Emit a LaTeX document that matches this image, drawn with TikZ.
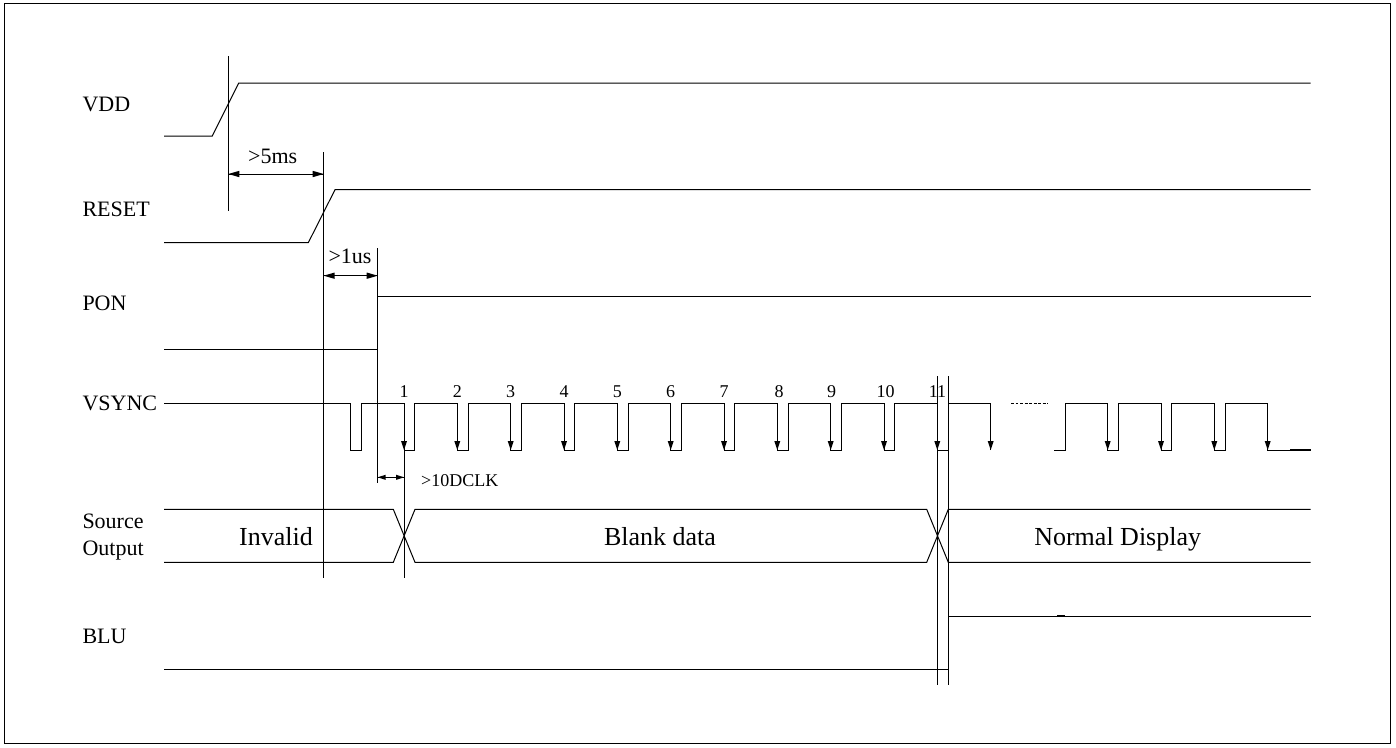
\documentclass[tikz,border=0pt]{standalone}
\usepackage{fontspec}
\setmainfont{Liberation Serif}

\tikzset{every picture/.style={line width=0.75pt}}
\tikzset{
  signame/.style={anchor=west, inner sep=0pt, align=left, font=\fontsize{16.5}{20}\selectfont},
  gaplbl/.style={inner sep=0pt, font=\fontsize{16.5}{20}\selectfont},
  pulsenum/.style={anchor=base, inner sep=0pt, font=\fontsize{13.5}{16}\selectfont},
  datalbl/.style={anchor=base, inner sep=0pt, font=\fontsize{19.5}{23}\selectfont},
}

\begin{document}
\begin{tikzpicture}[x=0.75pt,y=0.75pt,yscale=-1,xscale=1]
	\useasboundingbox (0,0) rectangle (1396,747);

	%Frame
	\draw [line width=1pt] (4.5,3.5) rectangle (1390.5,743.5);

	%VDD
	\draw    (164,136) -- (212.3,136) -- (238.7,83) -- (1310.7,83) ;
	%RESET
	\draw    (164,242.7) -- (308.3,242.7) -- (335,189.7) -- (1310.7,189.7) ;
	%PON
	\draw    (164,349.3) -- (377.7,349.3) -- (377.7,296) -- (1310.7,296) ;

	%VSYNC up to pulse 11
	\draw    (164,403) -- (350.7,403) -- (350.7,450) -- (361.7,450) -- (361.7,403)
	  -- (404,403) -- (404,450) -- (414.7,450) -- (414.7,403)
	  -- (457.3,403) -- (457.3,450) -- (468,450) -- (468,403)
	  -- (510.7,403) -- (510.7,450) -- (521.4,450) -- (521.4,403)
	  -- (564,403) -- (564,450) -- (574.7,450) -- (574.7,403)
	  -- (617.3,403) -- (617.3,450) -- (628,450) -- (628,403)
	  -- (670.7,403) -- (670.7,450) -- (681.4,450) -- (681.4,403)
	  -- (724,403) -- (724,450) -- (734.7,450) -- (734.7,403)
	  -- (777.3,403) -- (777.3,450) -- (788,450) -- (788,403)
	  -- (830.7,403) -- (830.7,450) -- (841.4,450) -- (841.4,403)
	  -- (884,403) -- (884,450) -- (894.7,450) -- (894.7,403)
	  -- (937.3,403) -- (937.3,450) -- (948,450) -- (948,403)
	  -- (990.7,403) -- (990.7,450) ;
	%VSYNC dots
	\draw [dash pattern=on 2.2pt off 1.2pt]  (1011,403) -- (1047.7,403) ;
	%VSYNC last pulses
	\draw    (1054.3,450) -- (1065.7,450) -- (1065.7,403)
	  -- (1107.7,403) -- (1107.7,450) -- (1118.3,450) -- (1118.3,403)
	  -- (1161,403) -- (1161,450) -- (1171.7,450) -- (1171.7,403)
	  -- (1214.3,403) -- (1214.3,450) -- (1225,450) -- (1225,403)
	  -- (1267.7,403) -- (1267.7,450) -- (1311,450) ;
	\draw [line width=1.5pt]  (1290,450) -- (1311,450) ;

	%VSYNC arrow heads
	\draw [shift={(404,450)}, rotate = 270] [fill=black][line width=0.08] [draw opacity=0] (9,-3) -- (0,0) -- (9,3) -- cycle ;
	\draw [shift={(457.3,450)}, rotate = 270] [fill=black][line width=0.08] [draw opacity=0] (9,-3) -- (0,0) -- (9,3) -- cycle ;
	\draw [shift={(510.7,450)}, rotate = 270] [fill=black][line width=0.08] [draw opacity=0] (9,-3) -- (0,0) -- (9,3) -- cycle ;
	\draw [shift={(564,450)}, rotate = 270] [fill=black][line width=0.08] [draw opacity=0] (9,-3) -- (0,0) -- (9,3) -- cycle ;
	\draw [shift={(617.3,450)}, rotate = 270] [fill=black][line width=0.08] [draw opacity=0] (9,-3) -- (0,0) -- (9,3) -- cycle ;
	\draw [shift={(670.7,450)}, rotate = 270] [fill=black][line width=0.08] [draw opacity=0] (9,-3) -- (0,0) -- (9,3) -- cycle ;
	\draw [shift={(724,450)}, rotate = 270] [fill=black][line width=0.08] [draw opacity=0] (9,-3) -- (0,0) -- (9,3) -- cycle ;
	\draw [shift={(777.3,450)}, rotate = 270] [fill=black][line width=0.08] [draw opacity=0] (9,-3) -- (0,0) -- (9,3) -- cycle ;
	\draw [shift={(830.7,450)}, rotate = 270] [fill=black][line width=0.08] [draw opacity=0] (9,-3) -- (0,0) -- (9,3) -- cycle ;
	\draw [shift={(884,450)}, rotate = 270] [fill=black][line width=0.08] [draw opacity=0] (9,-3) -- (0,0) -- (9,3) -- cycle ;
	\draw [shift={(937.3,450)}, rotate = 270] [fill=black][line width=0.08] [draw opacity=0] (9,-3) -- (0,0) -- (9,3) -- cycle ;
	\draw [shift={(990.7,450)}, rotate = 270] [fill=black][line width=0.08] [draw opacity=0] (9,-3) -- (0,0) -- (9,3) -- cycle ;
	\draw [shift={(1107.7,450)}, rotate = 270] [fill=black][line width=0.08] [draw opacity=0] (9,-3) -- (0,0) -- (9,3) -- cycle ;
	\draw [shift={(1161,450)}, rotate = 270] [fill=black][line width=0.08] [draw opacity=0] (9,-3) -- (0,0) -- (9,3) -- cycle ;
	\draw [shift={(1214.3,450)}, rotate = 270] [fill=black][line width=0.08] [draw opacity=0] (9,-3) -- (0,0) -- (9,3) -- cycle ;
	\draw [shift={(1267.7,450)}, rotate = 270] [fill=black][line width=0.08] [draw opacity=0] (9,-3) -- (0,0) -- (9,3) -- cycle ;

	%Source Output
	\draw    (164,509.3) -- (393.3,509.3) -- (415,562.3) -- (926.7,562.3) -- (948.3,509.3) -- (1310.7,509.3) ;
	\draw    (164,562.3) -- (393.3,562.3) -- (415,509.3) -- (926.7,509.3) -- (948.3,562.3) -- (1310.7,562.3) ;

	%BLU
	\draw    (164,669.3) -- (948,669.3) -- (948,616) -- (1310.7,616) ;
	\draw [line width=1.2pt]  (1057,616) -- (1065,616) ;

	%Timing marks
	\draw    (228.3,56) -- (228.3,211) ;
	\draw    (323.7,152.3) -- (323.7,578) ;
	\draw    (377.7,248.3) -- (377.7,482.7) ;
	\draw    (404,450) -- (404,578) ;
	\draw    (937.3,376) -- (937.3,685) ;
	\draw    (948,376) -- (948,685) ;

	%>5ms
	\draw    (228.3,174) -- (323.7,174) ;
	\draw [shift={(228.3,174)}, rotate = 0] [fill=black][line width=0.08] [draw opacity=0] (11,-3.2) -- (0,0) -- (11,3.2) -- cycle ;
	\draw [shift={(323.7,174)}, rotate = 180] [fill=black][line width=0.08] [draw opacity=0] (11,-3.2) -- (0,0) -- (11,3.2) -- cycle ;
	%>1us
	\draw    (323.7,275.7) -- (377.7,275.7) ;
	\draw [shift={(323.7,275.7)}, rotate = 0] [fill=black][line width=0.08] [draw opacity=0] (11,-3.2) -- (0,0) -- (11,3.2) -- cycle ;
	\draw [shift={(377.7,275.7)}, rotate = 180] [fill=black][line width=0.08] [draw opacity=0] (11,-3.2) -- (0,0) -- (11,3.2) -- cycle ;
	%>10DCLK
	\draw    (377.7,477.3) -- (404,477.3) ;
	\draw [shift={(377.7,477.3)}, rotate = 0] [fill=black][line width=0.08] [draw opacity=0] (8,-2.6) -- (0,0) -- (8,2.6) -- cycle ;
	\draw [shift={(404,477.3)}, rotate = 180] [fill=black][line width=0.08] [draw opacity=0] (8,-2.6) -- (0,0) -- (8,2.6) -- cycle ;

	% Text Node
	\draw (82,104) node [signame] (vdd) {VDD};
	% Text Node
	\draw (82,209.5) node [signame] (reset) {RESET};
	% Text Node
	\draw (82,303) node [signame] (pon) {PON};
	% Text Node
	\draw (82,403.5) node [signame] (vsync) {VSYNC};
	% Text Node
	\draw (82,537) node [signame] (srcout) {Source\\Output};
	% Text Node
	\draw (82,636.7) node [signame] (blu) {BLU};

	% Text Node
	\draw (272.7,156) node [gaplbl] (tfive) {>5ms};
	% Text Node
	\draw (350,256.7) node [gaplbl] (tone) {>1us};
	% Text Node
	\draw (420.7,480.7) node [anchor=west, inner sep=0pt, font=\fontsize{13.5}{16}\selectfont] (tdclk) {>10DCLK};

	% Text Node
	\draw (404,397.5) node [pulsenum] (n1) {1};
	\draw (457.3,397.5) node [pulsenum] (n2) {2};
	\draw (510.7,397.5) node [pulsenum] (n3) {3};
	\draw (564,397.5) node [pulsenum] (n4) {4};
	\draw (617.3,397.5) node [pulsenum] (n5) {5};
	\draw (670.7,397.5) node [pulsenum] (n6) {6};
	\draw (724,397.5) node [pulsenum] (n7) {7};
	\draw (779,397.5) node [pulsenum] (n8) {8};
	\draw (831.5,397.5) node [pulsenum] (n9) {9};
	\draw (885.5,397.5) node [pulsenum] (n10) {10};
	\draw (937.5,397.5) node [pulsenum] (n11) {11};

	% Text Node
	\draw (276,545.3) node [datalbl] (invalid) {Invalid};
	% Text Node
	\draw (660,545) node [datalbl] (blank) {Blank data};
	% Text Node
	\draw (1117.7,545.3) node [datalbl] (normal) {Normal Display};

\end{tikzpicture}
\end{document}
